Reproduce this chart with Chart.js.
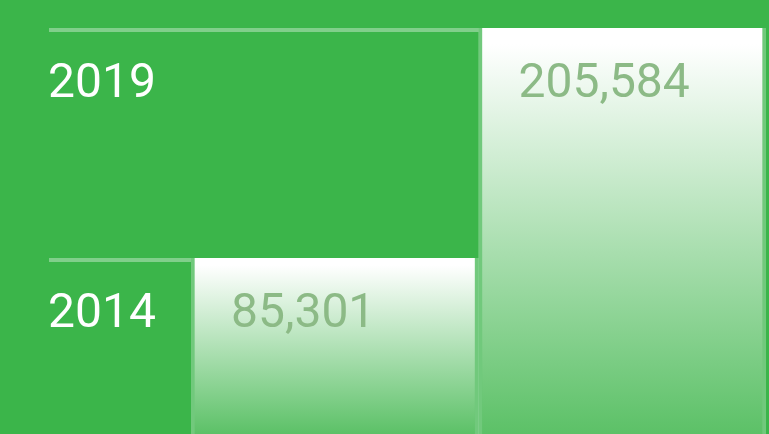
<!DOCTYPE html>
<html>
<head>
<meta charset="utf-8">
<script src="https://cdn.jsdelivr.net/npm/chart.js@4/dist/chart.umd.min.js"></script>
<style>
  html, body { margin: 0; padding: 0; background: #3bb54a; overflow: hidden; }
  #wrap { width: 769px; height: 434px; position: relative; }
</style>
</head>
<body>
<div id="wrap"><canvas id="chart"></canvas></div>
<script>
const years = ["2014", "2019"];
const totals = [85301, 205584];
const yRange = [-6700, 205584];

const bg = "#3bb54a";
const barBottomColor = "#5cc167";
const fontFamily = "Roboto, 'Noto Sans', sans-serif";

function barGradient(context) {
  const chart = context.chart;
  const yScale = chart.scales.y;
  const area = chart.chartArea;
  if (!area || !yScale || context.raw === undefined) return "#ffffff";
  const top = yScale.getPixelForValue(context.raw);
  const g = chart.ctx.createLinearGradient(0, top, 0, area.bottom);
  g.addColorStop(0, "#ffffff");
  g.addColorStop(0.04, "#ffffff");
  g.addColorStop(1, barBottomColor);
  return g;
}

// draws the marker line + year label left of each bar, and the value inside it
const markers = {
  id: "markers",
  beforeDraw(chart) {
    const { ctx, width, height } = chart;
    ctx.save();
    ctx.fillStyle = bg;
    ctx.fillRect(0, 0, width, height);
    ctx.restore();
  },
  beforeDatasetsDraw(chart) {
    const ctx = chart.ctx;
    const meta = chart.getDatasetMeta(0);
    ctx.save();
    meta.data.forEach((bar, i) => {
      const left = bar.x - bar.width / 2;
      ctx.strokeStyle = "rgba(255,255,255,0.36)";
      ctx.lineWidth = 4;
      ctx.beginPath();
      ctx.moveTo(49, bar.y + 2);
      ctx.lineTo(left, bar.y + 2);
      ctx.stroke();

      ctx.fillStyle = "#ffffff";
      ctx.font = "48px " + fontFamily;
      ctx.textBaseline = "alphabetic";
      ctx.textAlign = "left";
      ctx.fillText(years[i], 48, bar.y + 69);
    });
    ctx.restore();
  },
  afterDatasetsDraw(chart) {
    const ctx = chart.ctx;
    const meta = chart.getDatasetMeta(0);
    ctx.save();
    meta.data.forEach((bar, i) => {
      const left = bar.x - bar.width / 2;
      ctx.fillStyle = "#8cba86";
      ctx.font = "48px " + fontFamily;
      ctx.textBaseline = "alphabetic";
      ctx.textAlign = "left";
      ctx.fillText(totals[i].toLocaleString("en-US"), left + 40, bar.y + 69);
    });
    ctx.restore();
  }
};

new Chart(document.getElementById("chart"), {
  type: "bar",
  data: {
    labels: years,
    datasets: [
      {
        data: totals,
        base: yRange[0],
        backgroundColor: barGradient,
        borderColor: "rgba(255,255,255,0.28)",
        borderWidth: { left: 4, right: 4, top: 0, bottom: 0 },
        barPercentage: 1,
        categoryPercentage: 1,
      },
    ],
  },
  options: {
    responsive: true,
    maintainAspectRatio: false,
    animation: false,
    layout: {
      padding: { left: 191, right: 3, top: 28, bottom: 0 },
    },
    plugins: {
      legend: { display: false },
      tooltip: { enabled: false },
    },
    scales: {
      x: { display: false },
      y: { display: false, min: yRange[0], max: yRange[1] },
    },
  },
  plugins: [markers],
});
</script>
</body>
</html>
